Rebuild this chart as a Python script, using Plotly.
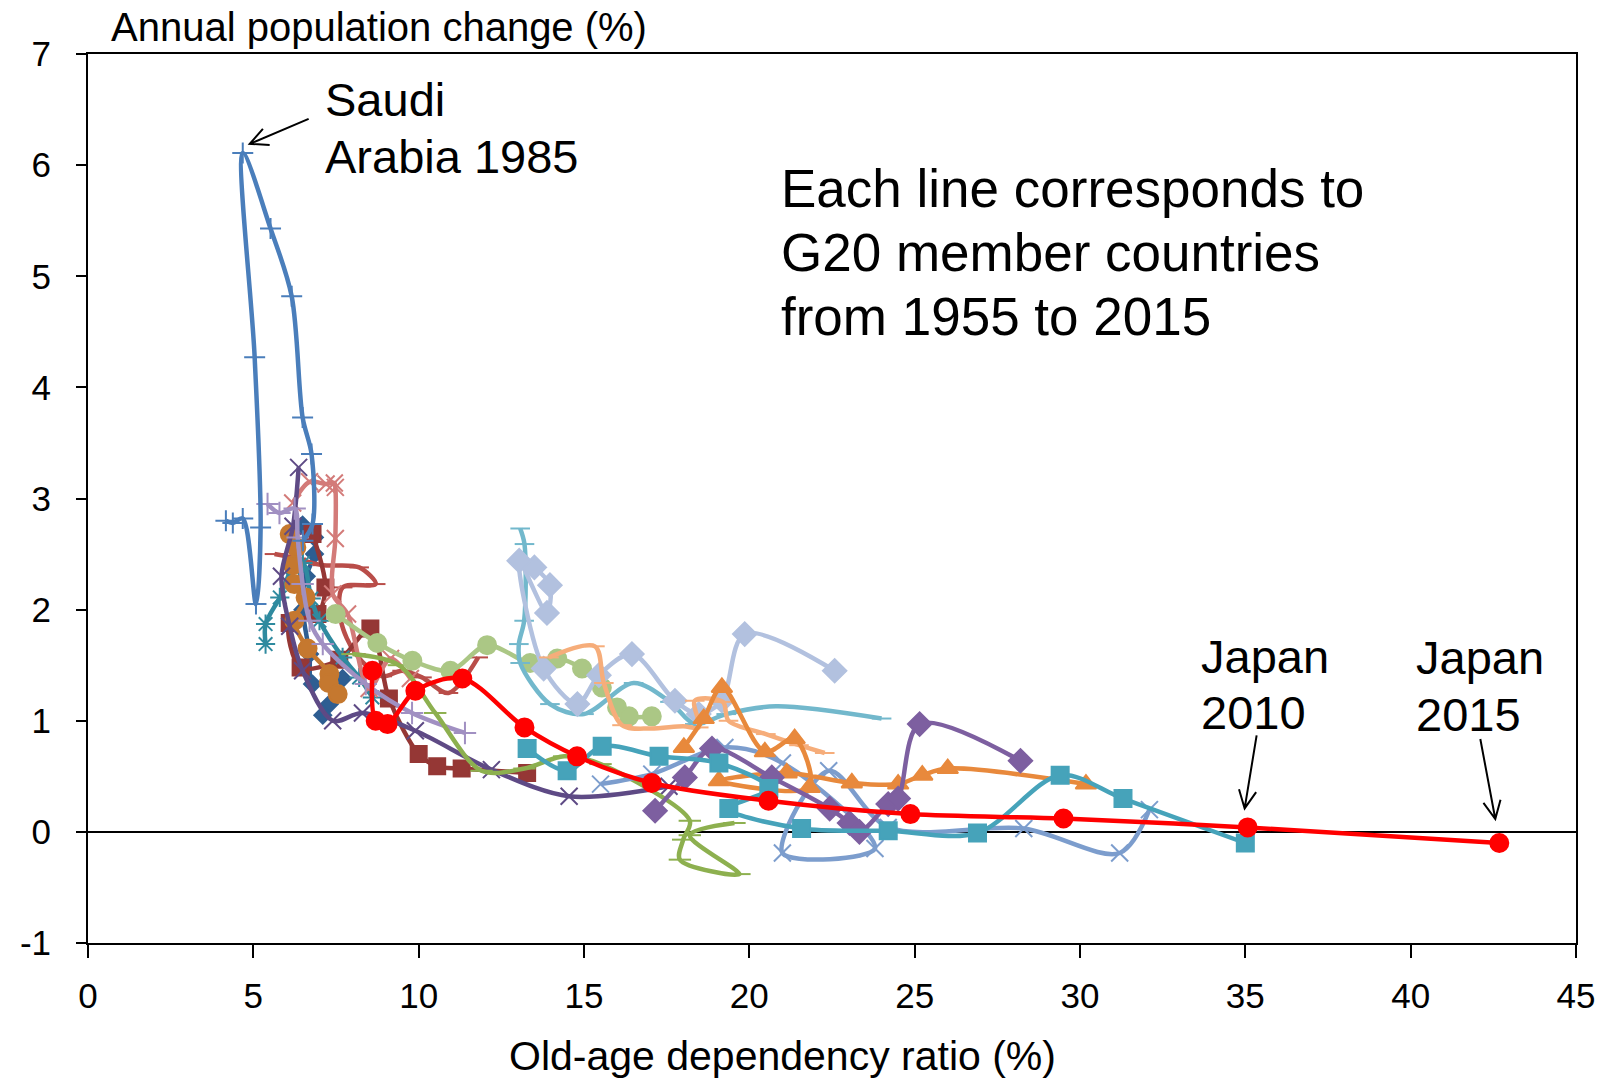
import math
import plotly.graph_objects as go

# ---------------- data ----------------
x_ticks = [0, 5, 10, 15, 20, 25, 30, 35, 40, 45]
y_ticks = [-1, 0, 1, 2, 3, 4, 5, 6, 7]
y_tick_labels = ["-1", "0", "1", "2", "3", "4", "5", "6", "7"]

saudi_x = [4.17, 4.38, 4.68, 5.08, 5.22, 5.04, 4.68, 5.52, 6.16, 6.49, 6.76, 6.79, 6.5]
saudi_y = [2.80, 2.78, 2.82, 2.05, 2.74, 4.27, 6.11, 5.43, 4.82, 3.73, 3.40, 2.77, 2.62]

japan_x = [8.6, 8.7, 9.06, 9.9, 11.32, 13.2, 14.79, 17.05, 20.58, 24.87, 29.5, 35.07, 42.68]
japan_y = [1.45, 1.0, 0.97, 1.27, 1.38, 0.94, 0.68, 0.44, 0.28, 0.16, 0.12, 0.04, -0.10]

teal_sq_x = [13.28, 14.49, 15.55, 17.27, 19.08, 20.59, 19.38, 21.58, 24.2, 26.9, 29.4, 31.3, 35.0]
teal_sq_y = [0.75, 0.55, 0.77, 0.68, 0.62, 0.39, 0.21, 0.03, 0.01, -0.01, 0.51, 0.30, -0.10]

purple_dm_x = [17.15, 18.05, 18.87, 20.68, 22.43, 23.03, 23.33, 24.2, 24.5, 25.15, 28.2]
purple_dm_y = [0.19, 0.49, 0.75, 0.49, 0.21, 0.08, 0.0, 0.25, 0.30, 0.97, 0.64]

orange_tri_x = [18.02, 18.62, 19.17, 20.47, 21.37, 21.82, 19.08, 21.13, 23.1, 24.5, 25.23, 26.0, 30.18]
orange_tri_y = [0.76, 1.02, 1.30, 0.72, 0.84, 0.40, 0.46, 0.53, 0.44, 0.43, 0.51, 0.57, 0.43]

lav_dm_x = [13.5, 13.97, 13.88, 13.04, 13.78, 14.8, 15.45, 16.45, 17.75, 18.47, 19.17, 19.86, 22.58]
lav_dm_y = [2.38, 2.22, 1.97, 2.44, 1.47, 1.15, 1.41, 1.60, 1.18, 1.06, 1.18, 1.78, 1.45]

aqua_x = [13.07, 13.2, 13.19, 13.03, 13.07, 13.97, 15.0, 16.5, 17.6, 18.35, 19.3, 20.8, 24.0]
aqua_y = [2.73, 2.59, 1.90, 1.69, 1.52, 1.15, 1.06, 1.34, 1.17, 0.97, 1.06, 1.13, 1.02]

peach_x = [13.94, 15.33, 15.6, 16.15, 17.0, 18.0, 18.47, 18.35, 19.2, 19.37, 20.5, 21.5, 22.28]
peach_y = [1.57, 1.67, 1.34, 0.96, 0.93, 0.95, 0.94, 1.18, 1.17, 1.00, 0.88, 0.78, 0.71]

lgreen_x = [7.49, 8.75, 9.81, 10.96, 12.07, 13.37, 14.19, 14.94, 15.54, 16.0, 16.36, 17.05]
lgreen_y = [1.96, 1.70, 1.54, 1.45, 1.68, 1.52, 1.56, 1.47, 1.30, 1.12, 1.04, 1.04]

green_x = [8.0, 9.4, 10.5, 11.9, 13.2, 14.4, 15.5, 18.2, 18.0, 17.9, 19.7, 18.2, 19.55]
green_y = [1.60, 1.50, 1.07, 0.55, 0.57, 0.68, 0.61, 0.10, -0.07, -0.25, -0.38, -0.03, 0.08]

lblue_x = [15.5, 17.05, 19.26, 21.0, 23.8, 21.0, 22.4, 24.2, 28.3, 31.2, 32.1]
lblue_y = [0.43, 0.52, 0.76, 0.62, -0.15, -0.19, 0.55, 0.04, 0.03, -0.19, 0.20]

lpurple_x = [5.43, 5.79, 6.25, 6.34, 6.49, 6.7, 7.1, 8.4, 9.8, 11.4]
lpurple_y = [2.95, 2.87, 2.91, 2.65, 2.23, 1.90, 1.69, 1.33, 1.07, 0.89]

salmon_x = [6.19, 6.7, 7.2, 7.45, 7.48, 7.48, 7.4, 7.85, 8.5, 9.15, 9.75]
salmon_y = [2.96, 3.15, 3.13, 3.14, 3.10, 2.64, 2.14, 1.96, 1.29, 1.56, 1.38]

dred_x = [6.79, 7.18, 6.94, 6.1, 6.43, 7.6, 8.54, 9.1, 10.0, 10.56, 11.3, 13.28]
dred_y = [2.68, 2.20, 1.96, 1.88, 1.48, 1.55, 1.83, 1.20, 0.70, 0.59, 0.57, 0.53]

brick_x = [5.64, 6.3, 7.1, 8.2, 8.7, 7.7, 7.65, 8.1, 8.9, 9.5, 10.1, 10.9, 11.8]
brick_y = [2.50, 2.46, 2.40, 2.38, 2.23, 2.20, 1.90, 1.60, 1.40, 1.45, 1.39, 1.25, 1.57]

teal_ast_x = [5.37, 5.37, 5.8, 6.2, 6.5, 6.75, 7.0, 7.7, 8.2, 8.6]
teal_ast_y = [1.69, 1.87, 2.11, 2.38, 2.42, 2.10, 1.90, 1.57, 1.39, 1.21]

dblue_x = [6.49, 6.85, 6.85, 6.6, 6.5, 6.7, 6.79, 7.7, 7.3, 7.1]
dblue_y = [2.76, 2.65, 2.50, 2.30, 2.00, 1.60, 1.33, 1.38, 1.15, 1.05]

dpurple_x = [6.37, 6.2, 5.85, 6.1, 6.49, 7.4, 8.3, 9.9, 12.2, 14.55, 17.57]
dpurple_y = [3.28, 2.75, 2.30, 1.85, 1.45, 1.00, 1.07, 0.91, 0.56, 0.32, 0.41]

ocircle_x = [6.1, 6.3, 6.2, 6.24, 6.58, 6.24, 6.64, 7.3, 7.28, 7.55]
ocircle_y = [2.68, 2.56, 2.40, 2.23, 2.11, 1.90, 1.65, 1.42, 1.34, 1.24]

# ---------------- styling ----------------
FONT = "Arial, Liberation Sans, sans-serif"
X_RANGE = [0, 45]
Y_RANGE = [-1, 7]
OFF = 8                       # default page margin of the html body
W_FIG, H_FIG = 1612 - OFF, 1079 - OFF
M_L, M_R, M_T, M_B = 85 - OFF, 36, 54 - OFF, 136
PW = W_FIG - M_L - M_R
PH = H_FIG - M_T - M_B

series = [
    (dblue_x, dblue_y, "#2E5E92", "diamond", 13),
    (brick_x, brick_y, "#B94D49", "line-ew-open", 14),
    (dred_x, dred_y, "#953735", "square", 16),
    (teal_ast_x, teal_ast_y, "#2F8A9F", "asterisk-open", 16),
    (salmon_x, salmon_y, "#D37B79", "x-thin-open", 17),
    (ocircle_x, ocircle_y, "#C5782F", "circle", 18),
    (dpurple_x, dpurple_y, "#5E4A85", "x-thin-open", 17),
    (lpurple_x, lpurple_y, "#A190C2", "cross-thin-open", 16),
    (saudi_x, saudi_y, "#4A7EBB", "cross-thin-open", 15),
    (green_x, green_y, "#8DB04F", "line-ew-open", 16),
    (lgreen_x, lgreen_y, "#ABC785", "circle", 18),
    (aqua_x, aqua_y, "#72B8CC", "line-ew-open", 14),
    (lav_dm_x, lav_dm_y, "#B2C1DF", "diamond", 18),
    (peach_x, peach_y, "#F6AD7A", "line-ew-open", 14),
    (lblue_x, lblue_y, "#7C9DCD", "x-thin-open", 17),
    (orange_tri_x, orange_tri_y, "#E8893C", "triangle-up", 18),
    (purple_dm_x, purple_dm_y, "#7D5FA0", "diamond", 18),
    (teal_sq_x, teal_sq_y, "#46A3BA", "square", 17),
    (japan_x, japan_y, "#FF0000", "circle", 18),
]

fig = go.Figure()
for sx, sy, col, sym, size in series:
    fig.add_trace(go.Scatter(
        x=sx, y=sy, mode="lines+markers",
        line=dict(color=col, width=4.5, shape="spline", smoothing=0.9),
        marker=dict(symbol=sym, size=size, color=col,
                    line=dict(color=col, width=2)),
        showlegend=False, hoverinfo="skip",
    ))


def d2p(x, y):
    """data -> page pixel"""
    px = OFF + M_L + (x - X_RANGE[0]) / (X_RANGE[1] - X_RANGE[0]) * PW
    py = OFF + M_T + (Y_RANGE[1] - y) / (Y_RANGE[1] - Y_RANGE[0]) * PH
    return px, py


def p2paper(px, py):
    """page pixel -> paper coords"""
    return (px - OFF - M_L) / PW, (OFF + M_T + PH - py) / PH


shapes = []


def arrow(tail_px, head_px, arm=20, ang=0.45):
    tx, ty = tail_px
    hx, hy = head_px
    dx, dy = tx - hx, ty - hy
    L = math.hypot(dx, dy)
    ux, uy = dx / L, dy / L
    pts = []
    for s in (-1, 1):
        c, si = math.cos(s * ang), math.sin(s * ang)
        pts.append((hx + (ux * c - uy * si) * arm, hy + (ux * si + uy * c) * arm))

    def P(p):
        a, b = p2paper(*p)
        return f"{a:.5f},{b:.5f}"
    path = f"M {P((tx, ty))} L {P((hx, hy))} M {P(pts[0])} L {P((hx, hy))} L {P(pts[1])}"
    shapes.append(dict(type="path", xref="paper", yref="paper", path=path,
                       line=dict(color="black", width=2)))


# Saudi Arabia 1985 = peak of the Saudi series
i_peak = saudi_y.index(max(saudi_y))
hx, hy = d2p(saudi_x[i_peak], saudi_y[i_peak])
arrow((hx + 66, hy - 34), (hx + 7, hy - 9))
# Japan 2010 and 2015
hx, hy = d2p(japan_x[-2], japan_y[-2])
arrow((hx + 9, hy - 92), (hx - 3, hy - 19))
hx, hy = d2p(japan_x[-1], japan_y[-1])
arrow((hx - 19, hy - 104), (hx - 4, hy - 24))

annotations = []


def label(text, px, py, size, xanchor="left"):
    a, b = p2paper(px, py)
    annotations.append(dict(text=text, x=a, y=b, xref="paper", yref="paper",
                            xanchor=xanchor, yanchor="middle", showarrow=False,
                            font=dict(family=FONT, size=size, color="black")))


label("Annual population change (%)", 106, 27, 40)
label("Old-age dependency ratio (%)", 781, 1056, 41, xanchor="center")
label("Saudi", 320, 99, 47)
label("Arabia 1985", 320, 156, 47)
label("Each line corresponds to", 777, 188, 53)
label("G20 member countries", 777, 252, 53)
label("from 1955 to 2015", 777, 316, 53)
label("Japan", 1198, 656, 47)
label("2010", 1198, 712, 47)
label("Japan", 1414, 657, 47)
label("2015", 1414, 714, 47)

fig.update_layout(
    width=W_FIG, height=H_FIG,
    margin=dict(l=M_L, r=M_R, t=M_T, b=M_B, pad=0),
    paper_bgcolor="white", plot_bgcolor="white",
    font=dict(family=FONT, color="black"),
    shapes=shapes, annotations=annotations,
    xaxis=dict(range=X_RANGE, tickvals=x_ticks, showgrid=False, zeroline=False,
               showline=True, linecolor="black", linewidth=2, mirror=True,
               ticks="outside", ticklen=13, tickwidth=2, tickcolor="black",
               tickfont=dict(size=35, family=FONT, color="black"),
               ticklabelstandoff=8),
    yaxis=dict(range=Y_RANGE, tickvals=y_ticks, ticktext=y_tick_labels,
               showgrid=False, zeroline=True, zerolinecolor="black", zerolinewidth=1.5,
               showline=True, linecolor="black", linewidth=2, mirror=True,
               ticks="outside", ticklen=10, tickwidth=2, tickcolor="black",
               tickfont=dict(size=35, family=FONT, color="black"),
               ticklabelstandoff=18),
)

fig.write_html("out.html")
